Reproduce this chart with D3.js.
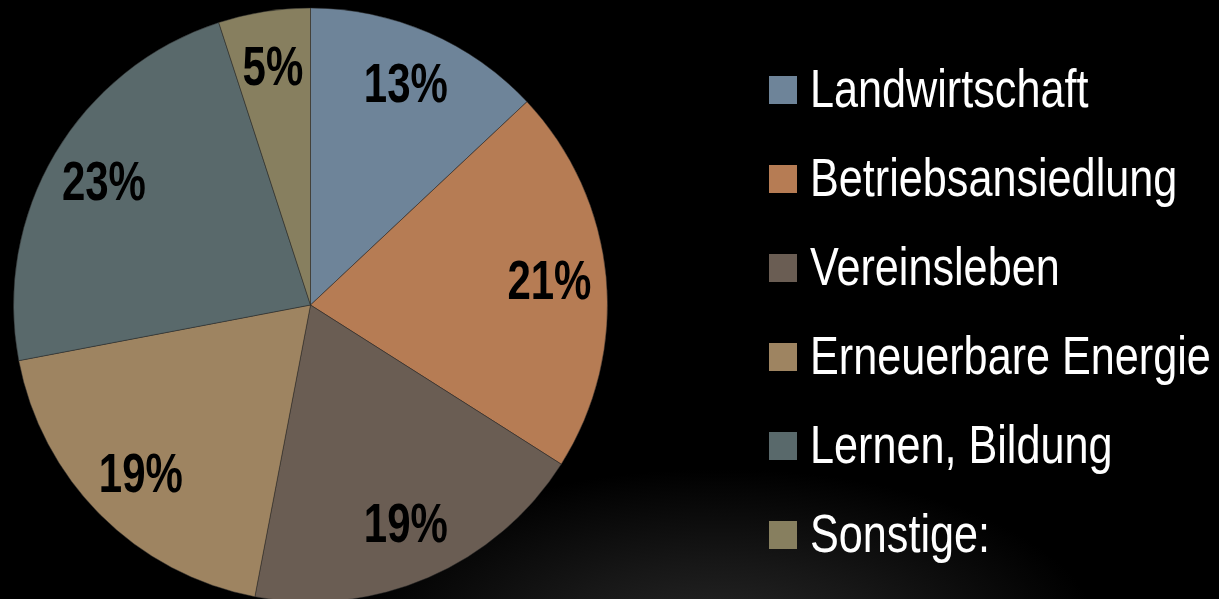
<!DOCTYPE html>
<html><head><meta charset="utf-8">
<script src="https://cdn.jsdelivr.net/npm/d3@7"></script>
<style>html,body{margin:0;padding:0;background:#000;overflow:hidden}</style>
</head><body>
<svg id="c" width="1219" height="599"></svg>
<script>
const categories = ["Landwirtschaft","Betriebsansiedlung","Vereinsleben","Erneuerbare Energie","Lernen, Bildung","Sonstige:"];
const values = [13, 21, 19, 19, 23, 5];
const colors = ["#6e8499","#b67c54","#6a5d53","#9e8461","#59696b","#877f5f"];

const W = 1219, H = 599;
const svg = d3.select("#c");
const defs = svg.append("defs");
const rg = defs.append("radialGradient").attr("id","glow")
  .attr("gradientUnits","userSpaceOnUse")
  .attr("cx",720).attr("cy",640).attr("r",380)
  .attr("gradientTransform","translate(720,640) scale(1,0.45) translate(-720,-640)");
rg.append("stop").attr("offset","0%").attr("stop-color","#282828");
rg.append("stop").attr("offset","45%").attr("stop-color","#171717");
rg.append("stop").attr("offset","100%").attr("stop-color","#000");
svg.append("rect").attr("width",W).attr("height",H).attr("fill","#000");
svg.append("rect").attr("width",W).attr("height",H).attr("fill","url(#glow)");

const cx = 310.5, cy = 305, R = 297;
const pie = d3.pie().sort(null).value(d => d);
const arcs = pie(values);
const arc = d3.arc().innerRadius(0).outerRadius(R);
const labelArc = d3.arc().innerRadius(240).outerRadius(240);
const color = d3.scaleOrdinal().domain(categories).range(colors);

const g = svg.append("g").attr("transform",`translate(${cx},${cy})`);
g.selectAll("path").data(arcs).join("path")
  .attr("d", arc)
  .attr("fill", (d,i) => color(categories[i]))
  .attr("stroke", "rgba(40,40,40,0.6)")
  .attr("stroke-width", 0.8);

g.selectAll("text").data(arcs).join("text")
  .attr("transform", d => { const [x,y] = labelArc.centroid(d); return `translate(${x},${y}) scale(0.75,1)`; })
  .attr("text-anchor","middle")
  .attr("dy","0.3em")
  .attr("font-family","'Liberation Sans', Arial, sans-serif")
  .attr("font-weight","bold")
  .attr("font-size", 56)
  .attr("fill","#000")
  .text(d => d.data + "%");

const legY = d3.scalePoint().domain(categories).range([107, 552]);
const lg = svg.append("g");
const items = lg.selectAll("g").data(categories).join("g")
  .attr("transform", d => `translate(769,${legY(d)})`);
items.append("rect").attr("x",0).attr("y",-31).attr("width",28).attr("height",28)
  .attr("fill", d => color(d));
items.append("text")
  .attr("transform","translate(41,0) scale(0.8,1)")
  .attr("font-family","'Liberation Sans', Arial, sans-serif")
  .attr("font-size", 54)
  .attr("fill","#fff")
  .text(d => d);
</script>
</body></html>
